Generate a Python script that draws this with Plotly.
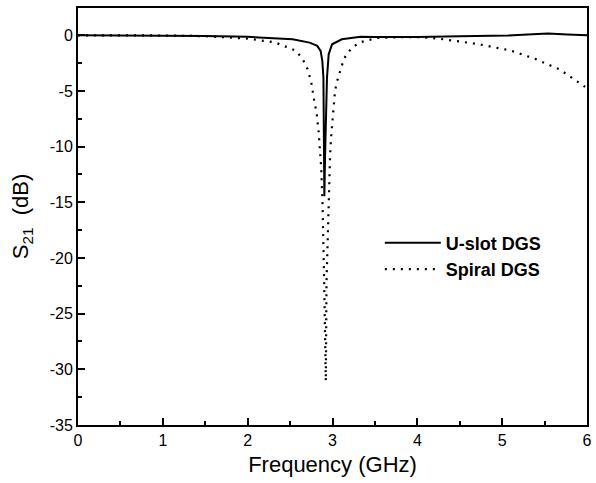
import plotly.graph_objects as go

# Transmission response of the two DGS resonators (frequency in GHz, S21 in dB)
freq_uslot = [0.0, 0.5, 1.0, 1.5, 2.0, 2.3, 2.53, 2.73, 2.82, 2.86, 2.88, 2.893,
              2.898, 2.901, 2.904, 2.912, 2.922, 2.935, 2.955, 2.995, 3.11, 3.33,
              3.5, 4.0, 4.5, 5.07, 5.3, 5.54, 5.77, 6.0]
s21_uslot = [0.0, 0.0, -0.02, -0.06, -0.14, -0.24, -0.36, -0.66, -0.95, -1.4, -2.3, -3.8,
             -7.4, -11.0, -14.45, -11.0, -7.4, -3.8, -1.71, -0.81, -0.36, -0.14,
             -0.15, -0.15, -0.08, -0.03, 0.08, 0.15, 0.06, 0.0]

freq_spiral = [0.0, 0.5, 1.0, 1.5, 2.0, 2.32, 2.47, 2.571, 2.649, 2.707, 2.734, 2.758,
               2.774, 2.797, 2.812, 2.836, 2.844, 2.859, 2.867, 2.874, 2.882, 2.902,
               2.914, 2.921, 2.929, 2.952, 2.960, 2.972, 2.984, 2.991, 2.999, 3.007,
               3.019, 3.030, 3.049, 3.077, 3.115, 3.154, 3.232, 3.329, 3.523, 3.8,
               4.05, 4.25, 4.44, 4.71, 5.10, 5.39, 5.68, 5.86, 6.0]
s21_spiral = [0.0, 0.0, -0.02, -0.08, -0.3, -0.63, -1.07, -1.40, -2.15, -3.05, -3.80, -4.54,
              -5.44, -6.19, -6.94, -8.62, -9.36, -11.0, -11.9, -13.4, -14.9, -22.3,
              -31.06, -31.06, -22.2, -14.75, -12.2, -10.7, -9.07, -8.31, -7.41, -6.64,
              -5.75, -5.0, -4.25, -3.50, -2.60, -1.85, -1.10, -0.62, -0.24, -0.17,
              -0.18, -0.3, -0.48, -0.78, -1.37, -2.12, -3.08, -4.04, -4.75]

x_ticks = [0, 1, 2, 3, 4, 5, 6]
y_ticks = [0, -5, -10, -15, -20, -25, -30, -35]

FONT = "Arial, Liberation Sans, sans-serif"

fig = go.Figure()
fig.add_trace(go.Scatter(x=freq_uslot, y=s21_uslot, mode="lines", name="U-slot DGS",
                         line=dict(color="black", width=2)))
fig.add_trace(go.Scatter(x=freq_spiral, y=s21_spiral, mode="lines", name="Spiral DGS",
                         line=dict(color="black", width=2.2, dash="2px,6px")))

axis_common = dict(
    showline=True, linecolor="black", linewidth=2, mirror=True,
    ticks="inside", ticklen=7, tickwidth=1.5, tickcolor="black",
    showgrid=False, zeroline=False,
    tickfont=dict(family=FONT, size=16, color="black"),
    title_font=dict(family=FONT, size=22, color="black"),
    minor=dict(ticks="inside", ticklen=4, tickwidth=1.5, tickcolor="black", showgrid=False),
)

fig.update_xaxes(range=[0, 6], tickvals=x_ticks, ticktext=[str(v) for v in x_ticks],
                 minor_dtick=0.5, title_text="Frequency (GHz)", title_standoff=8,
                 **axis_common)
fig.update_yaxes(range=[-35, 2.45], tickvals=y_ticks, ticktext=[str(v) for v in y_ticks],
                 minor_dtick=2.5, minor_tick0=0,
                 title_text="S<sub>21</sub>  (dB)", title_standoff=15,
                 **axis_common)

fig.update_layout(
    width=596, height=483,
    margin=dict(l=78, r=4, t=8, b=58),
    paper_bgcolor="white", plot_bgcolor="white",
    font=dict(family=FONT, color="black"),
    showlegend=True,
    legend=dict(x=0.593, y=0.405, xanchor="left", yanchor="middle",
                bgcolor="rgba(0,0,0,0)", itemwidth=56, tracegroupgap=0,
                font=dict(family=FONT, size=18, color="black", weight="bold")),
)

fig.write_html("out.html")
